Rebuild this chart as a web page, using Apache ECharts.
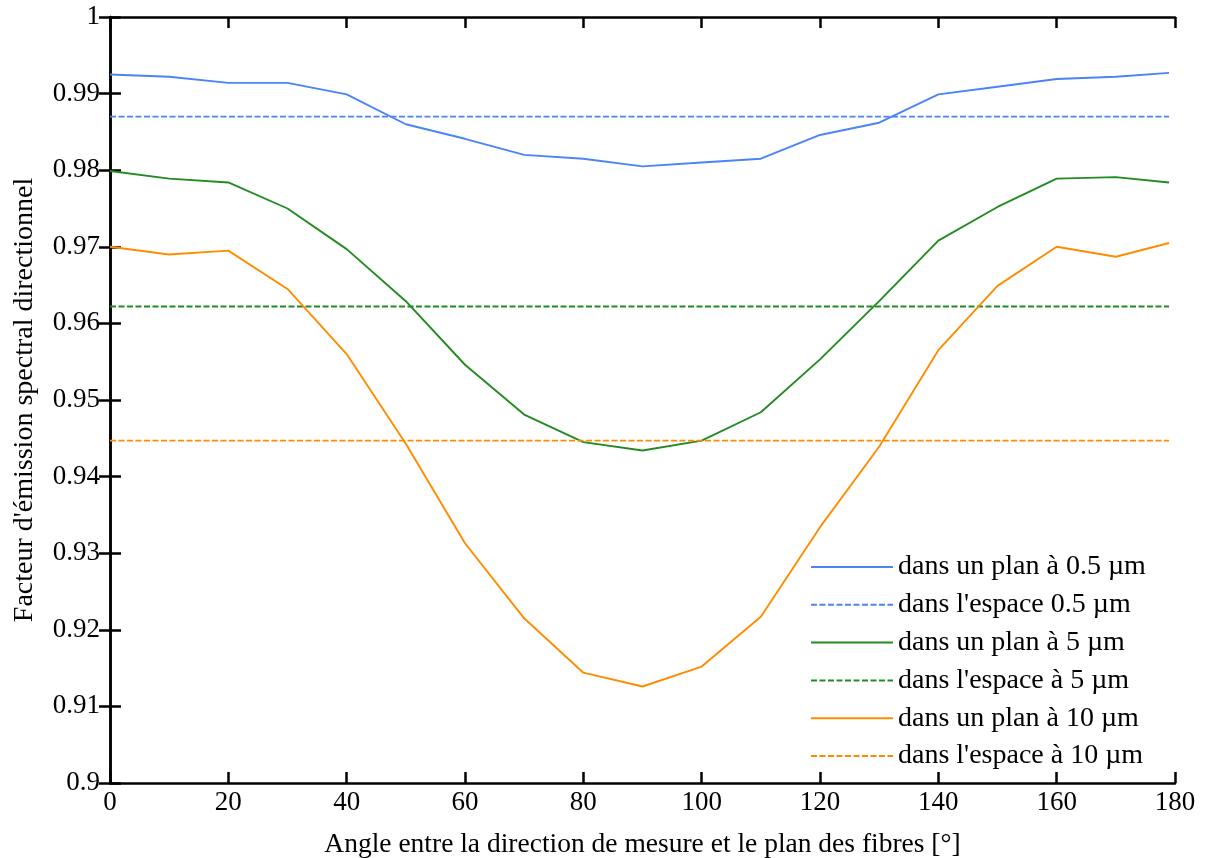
<!DOCTYPE html>
<html>
<head>
<meta charset="utf-8">
<script src="https://cdn.jsdelivr.net/npm/echarts@6/dist/echarts.min.js"></script>
<style>
html,body{margin:0;padding:0;background:#fff;}
#chart{width:1206px;height:858px;}
</style>
</head>
<body>
<div id="chart"></div>
<script>
// Data
const angles = [0,10,20,30,40,50,60,70,80,90,100,110,120,130,140,150,160,170,179];
const plan05 = [0.9925,0.9922,0.9914,0.9914,0.9899,0.9860,0.9841,0.9820,0.9815,0.9805,0.9810,0.9815,0.9846,0.9862,0.9899,0.9909,0.9919,0.9922,0.9927];
const plan5  = [0.9799,0.9789,0.9784,0.9750,0.9697,0.9629,0.9546,0.9481,0.9445,0.9434,0.9447,0.9484,0.9553,0.9629,0.9708,0.9752,0.9789,0.9791,0.9784];
const plan10 = [0.9700,0.9690,0.9695,0.9645,0.9560,0.9443,0.9313,0.9215,0.9144,0.9126,0.9152,0.9217,0.9334,0.9439,0.9565,0.9649,0.9700,0.9687,0.9705];
const espaceX = [0, 179];
const espace05 = [0.9870, 0.9870];
const espace5  = [0.9622, 0.9622];
const espace10 = [0.9447, 0.9447];
const seriesNames = [
  "dans un plan à 0.5 µm",
  "dans l'espace 0.5 µm",
  "dans un plan à 5 µm",
  "dans l'espace à 5 µm",
  "dans un plan à 10 µm",
  "dans l'espace à 10 µm"
];
const xTitle = "Angle entre la direction de mesure et le plan des fibres [°]";
const yTitle = "Facteur d'émission spectral directionnel";

const BLUE = '#4a84f6', GREEN = '#228b22', ORANGE = '#ff8c00';
const FONT = 'Liberation Serif';

function pairs(xs, ys){ return xs.map((x,i)=>[x, ys[i]]); }
function mk(name, xs, ys, color, dashed){
  return {
    name: name, type: 'line', data: pairs(xs, ys),
    showSymbol: false, symbol: 'none', animation: false,
    lineStyle: {color: color, width: 1.9, type: dashed ? [6,2.5] : 'solid'},
    itemStyle: {color: color}
  };
}

const chart = echarts.init(document.getElementById('chart'));
const axisLine = {show: true, lineStyle: {color: '#000', width: 2.5}};
const axisTick = {show: true, inside: true, length: 11, lineStyle: {color: '#000', width: 2.5}};
chart.setOption({
  backgroundColor: '#fff',
  animation: false,
  grid: {left: 110, right: 31, top: 17, bottom: 75, containLabel: false, outerBoundsMode: 'none'},
  legend: {
    orient: 'vertical', left: 805, top: 548,
    itemWidth: 82, itemHeight: 14, itemGap: 9.8,
    itemStyle: {opacity: 0},
    textStyle: {fontFamily: FONT, fontSize: 28, color: '#000', lineHeight: 26},
    data: seriesNames
  },
  xAxis: [{
    type: 'value', min: 0, max: 180, interval: 20, position: 'bottom',
    axisLine: axisLine, axisTick: axisTick, splitLine: {show: false},
    axisLabel: {fontFamily: FONT, fontSize: 27, color: '#000', margin: 6},
    name: xTitle, nameLocation: 'middle', nameGap: 48,
    nameTextStyle: {fontFamily: FONT, fontSize: 27.5, color: '#000'}
  },{
    type: 'value', min: 0, max: 180, interval: 20, position: 'top',
    axisLine: axisLine, axisTick: axisTick, splitLine: {show: false},
    axisLabel: {show: false}
  }],
  yAxis: [{
    type: 'value', min: 0.9, max: 1.0, interval: 0.01, position: 'left',
    axisLine: axisLine, axisTick: axisTick, splitLine: {show: false},
    axisLabel: {fontFamily: FONT, fontSize: 27, color: '#000', margin: 10,
      formatter: v => String(Math.round(v*1000)/1000)},
    name: yTitle, nameLocation: 'middle', nameGap: 71,
    nameTextStyle: {fontFamily: FONT, fontSize: 28, color: '#000'}
  },{
    type: 'value', min: 0.9, max: 1.0, interval: 0.01, position: 'right',
    axisLine: axisLine, axisTick: axisTick, splitLine: {show: false},
    axisLabel: {show: false}
  }],
  series: [
    mk(seriesNames[0], angles, plan05, BLUE, false),
    mk(seriesNames[1], espaceX, espace05, BLUE, true),
    mk(seriesNames[2], angles, plan5, GREEN, false),
    mk(seriesNames[3], espaceX, espace5, GREEN, true),
    mk(seriesNames[4], angles, plan10, ORANGE, false),
    mk(seriesNames[5], espaceX, espace10, ORANGE, true)
  ]
});
</script>
</body>
</html>
